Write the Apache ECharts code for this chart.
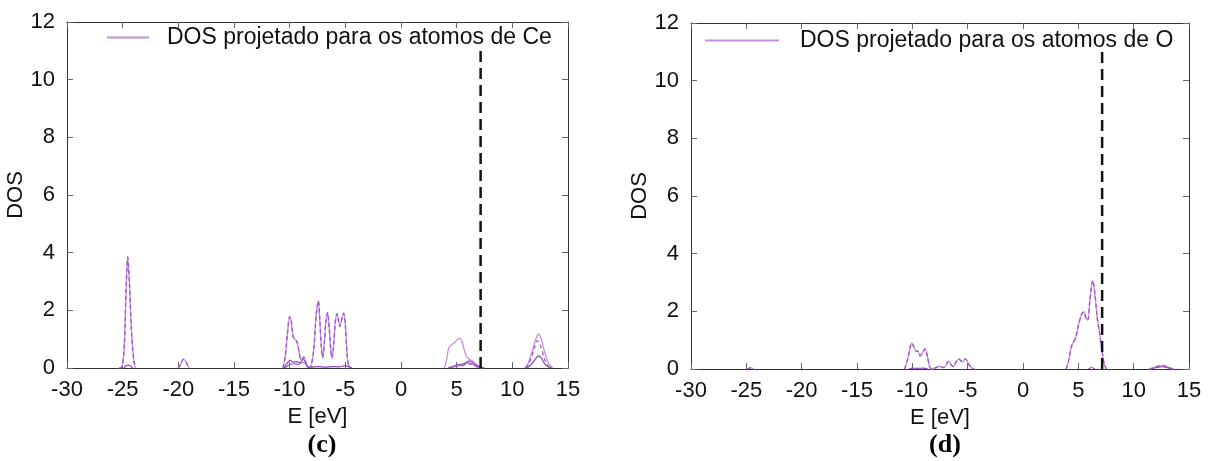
<!DOCTYPE html>
<html lang="pt">
<head>
<meta charset="UTF-8">
<title>DOS projetado</title>
<script src="https://cdn.jsdelivr.net/npm/echarts@6/dist/echarts.min.js"></script>
</head>
<body style="margin:0;background:#fff">
<div id="container" style="width:1208px;height:461px;"></div>
<script>
// linha tracejada vertical (E de Fermi) e sua altura
var fermiE = 7.15, fermiTop = 11.1;

// ---- (c) atomos de Ce : pares [E, DOS], null separa os trechos ----
// picos de caroco e banda de valencia (total e componente tracejada coincidem)
var ceCore = [[-25.3,0],[-25.05,0.05],[-24.85,0.8],[-24.7,2.6],[-24.55,3.85],[-24.4,3.0],[-24.2,1.2],[-24.0,0.25],[-23.85,0], null,
    [-20.0,0],[-19.8,0.12],[-19.55,0.3],[-19.35,0.25],[-19.15,0.08],[-19.0,0]];
var ceValence = [[-10.6,0],[-10.4,0.4],[-10.2,1.2],[-10.0,1.78],[-9.85,1.6],[-9.7,1.1],[-9.5,0.98],[-9.35,0.92],[-9.15,0.55],[-9.0,0.3],
    [-8.85,0.33],[-8.72,0.38],[-8.55,0.2],[-8.35,0.02],[-8.1,0.05],[-7.85,0.6],[-7.6,1.9],[-7.42,2.33],[-7.3,1.7],[-7.15,0.7],
    [-7.03,0.36],[-6.9,0.8],[-6.75,1.6],[-6.6,1.92],[-6.45,1.4],[-6.3,0.6],[-6.19,0.35],[-6.05,0.8],[-5.9,1.6],[-5.74,1.88],
    [-5.6,1.6],[-5.5,1.44],[-5.35,1.65],[-5.15,1.9],[-5.0,1.5],[-4.85,0.5],[-4.7,0.08],[-4.55,0]];
// banda de conducao: total
var ceTotalCond = [[3.9,0],[4.1,0.3],[4.3,0.7],[4.6,0.82],[4.85,0.9],[5.1,1.0],[5.3,1.03],[5.5,0.9],[5.7,0.6],[5.9,0.38],
    [6.15,0.3],[6.4,0.25],[6.7,0.15],[7.0,0.07],[7.4,0], null,
    [11.1,0],[11.4,0.15],[11.8,0.6],[12.1,1.0],[12.35,1.18],[12.6,1.0],[12.9,0.55],[13.2,0.2],[13.6,0]];
// banda de conducao: componente tracejada
var ceDashCond = [[4.2,0],[4.6,0.05],[5.0,0.1],[5.5,0.08],[6.0,0.15],[6.3,0.12],[6.8,0.04],[7.3,0], null,
    [11.2,0],[11.5,0.15],[11.9,0.6],[12.25,0.95],[12.55,0.75],[12.9,0.3],[13.2,0.08],[13.5,0]];
// componentes menores
var ceMinorA = [[-24.9,0],[-24.7,0.08],[-24.5,0.1],[-24.3,0.07],[-24.1,0], null,
    [-10.5,0],[-10.2,0.18],[-9.95,0.27],[-9.7,0.2],[-9.4,0.22],[-9.1,0.18],[-8.8,0.3],[-8.6,0.22],[-8.35,0.02],[-8.0,0.03],
    [-7.4,0.05],[-6.8,0.03],[-6.2,0.05],[-5.6,0.04],[-5.0,0.08],[-4.6,0.03],[-4.4,0], null,
    [4.3,0],[4.7,0.06],[5.2,0.12],[5.7,0.15],[6.1,0.25],[6.4,0.2],[6.8,0.08],[7.2,0.02],[7.5,0], null,
    [11.3,0],[11.7,0.12],[12.1,0.32],[12.35,0.42],[12.6,0.35],[12.9,0.15],[13.3,0.02],[13.6,0]];
var ceMinorB = [[-10.4,0],[-10.0,0.12],[-9.6,0.15],[-9.2,0.12],[-8.9,0.2],[-8.6,0.15],[-8.3,0], null,
    [4.5,0],[5.0,0.06],[5.6,0.1],[6.0,0.18],[6.5,0.12],[7.0,0.03],[7.3,0]];

// ---- (d) atomos de O ----
var oTotal = [[-24.9,0],[-24.6,0.04],[-24.3,0], null,
    [-10.7,0],[-10.45,0.3],[-10.2,0.75],[-10.04,0.9],[-9.85,0.75],[-9.65,0.62],[-9.5,0.62],[-9.3,0.45],[-9.1,0.55],[-8.85,0.7],
    [-8.65,0.45],[-8.45,0.1],[-8.3,0],[-7.9,0.04],[-7.55,0.1],[-7.25,0.05],[-7.0,0.1],[-6.75,0.26],[-6.5,0.15],[-6.27,0.08],
    [-6.05,0.25],[-5.8,0.35],[-5.6,0.28],[-5.45,0.25],[-5.2,0.35],[-4.95,0.2],[-4.7,0.05],[-4.4,0], null,
    [3.9,0],[4.1,0.25],[4.4,0.8],[4.75,1.07],[5.0,1.5],[5.3,1.9],[5.5,1.98],[5.7,1.75],[5.85,1.7],[6.05,2.4],[6.3,3.07],
    [6.5,2.6],[6.7,1.8],[6.9,1.3],[7.15,0.6],[7.35,0.15],[7.55,0], null,
    [11.4,0],[11.8,0.04],[12.2,0.1],[12.6,0.12],[13.0,0.08],[13.4,0.02],[13.6,0]];
var oMinor = [[-10.3,0],[-10.0,0.03],[-9.5,0.02],[-9.0,0.03],[-8.6,0], null,
    [5.9,0],[6.2,0.05],[6.5,0], null,
    [11.6,0],[12.1,0.05],[12.6,0.08],[13.1,0.04],[13.5,0]];

var legendCe = 'DOS projetado para os atomos de Ce';
var legendO = 'DOS projetado para os atomos de O';

var lightPurple = '#c490dd', midPurple = '#a259c6', darkPurple = '#8a45b5';
var font = 'Liberation Sans, Arial, sans-serif';

var dom = document.getElementById('container');
var myChart = echarts.init(dom, null, {renderer: 'canvas'});

function curve(name, data, color, width, type, g) {
    return {
        name: name,
        type: 'line',
        xAxisIndex: g * 2,
        yAxisIndex: g * 2,
        data: data,
        symbol: 'none',
        smooth: 0.3,
        connectNulls: false,
        lineStyle: {color: color, width: width, type: type},
        itemStyle: {color: color},
        silent: true
    };
}

function xAx(g, pos) {
    var bottom = pos === 'bottom';
    return {
        type: 'value', gridIndex: g, position: pos,
        min: -30, max: 15, interval: 5,
        axisLine: {show: true, onZero: false, lineStyle: {color: '#333', width: 1}},
        axisTick: {show: true, inside: true, length: 6, lineStyle: {color: '#666'}},
        axisLabel: {show: bottom, fontSize: 22, color: '#111', margin: 11, fontFamily: font},
        splitLine: {show: false},
        name: bottom ? 'E [eV]' : '', nameLocation: 'middle', nameGap: 33,
        nameTextStyle: {fontSize: 22, color: '#111', fontFamily: font}
    };
}
function yAx(g, pos) {
    var left = pos === 'left';
    return {
        type: 'value', gridIndex: g, position: pos,
        min: 0, max: 12, interval: 2,
        axisLine: {show: true, onZero: false, lineStyle: {color: '#333', width: 1}},
        axisTick: {show: true, inside: true, length: 6, lineStyle: {color: '#666'}},
        axisLabel: {show: left, fontSize: 22, color: '#111', margin: 12, fontFamily: font},
        splitLine: {show: false},
        name: left ? 'DOS' : '', nameLocation: 'middle', nameGap: 31, nameRotate: 90,
        nameTextStyle: {fontSize: 22, color: '#111', fontFamily: font}
    };
}

var series = [
    // (c) Ce
    curve(legendCe, ceCore, lightPurple, 1.3, 'solid', 0),
    curve('ce-val', ceValence, lightPurple, 1.3, 'solid', 0),
    curve('ce-cond', ceTotalCond, lightPurple, 1.3, 'solid', 0),
    curve('ce-minorA', ceMinorA, darkPurple, 1.2, 'solid', 0),
    curve('ce-minorB', ceMinorB, midPurple, 1.1, 'solid', 0),
    curve('ce-core-d', ceCore, midPurple, 1.4, [4, 3], 0),
    curve('ce-val-d', ceValence, midPurple, 1.4, [4, 3], 0),
    curve('ce-cond-d', ceDashCond, midPurple, 1.3, [4, 3], 0),
    // (d) O
    curve(legendO, oTotal, lightPurple, 1.3, 'solid', 1),
    curve('o-minor', oMinor, darkPurple, 1.1, 'solid', 1),
    curve('o-d', oTotal, midPurple, 1.4, [4, 3], 1)
];
// linha tracejada preta em cada painel
[0, 1].forEach(function (g) {
    series.push({
        type: 'line', xAxisIndex: g * 2, yAxisIndex: g * 2,
        data: [[fermiE, 0], [fermiE, fermiTop]],
        symbol: 'none', silent: true, z: 5,
        lineStyle: {color: '#111', width: 2.5, type: [11, 6]}
    });
});

var legendBase = {
    padding: 0, icon: 'rect', itemHeight: 2, selectedMode: false,
    itemStyle: {color: lightPurple}
};

myChart.setOption({
    animation: false,
    backgroundColor: '#fff',
    title: [
        {text: '(c)', left: 317, top: 427, textAlign: 'center',
         textStyle: {fontFamily: 'Liberation Serif, Times New Roman, serif', fontWeight: 'bold', fontSize: 26, color: '#000'}},
        {text: '(d)', left: 940, top: 427, textAlign: 'center',
         textStyle: {fontFamily: 'Liberation Serif, Times New Roman, serif', fontWeight: 'bold', fontSize: 26, color: '#000'}}
    ],
    grid: [
        {left: 67, top: 22, width: 501, height: 346},
        {left: 691, top: 23, width: 498, height: 346}
    ],
    xAxis: [xAx(0, 'bottom'), xAx(0, 'top'), xAx(1, 'bottom'), xAx(1, 'top')],
    yAxis: [yAx(0, 'left'), yAx(0, 'right'), yAx(1, 'left'), yAx(1, 'right')],
    legend: [
        Object.assign({data: [legendCe], left: 107, top: 26, itemWidth: 42,
            textStyle: {fontSize: 23, color: '#111', fontFamily: font, padding: [0, 0, 0, 13]}}, legendBase),
        Object.assign({data: [legendO], left: 705, top: 29, itemWidth: 74,
            textStyle: {fontSize: 23, color: '#111', fontFamily: font, padding: [0, 0, 0, 16]}}, legendBase)
    ],
    series: series
});
</script>
</body>
</html>
